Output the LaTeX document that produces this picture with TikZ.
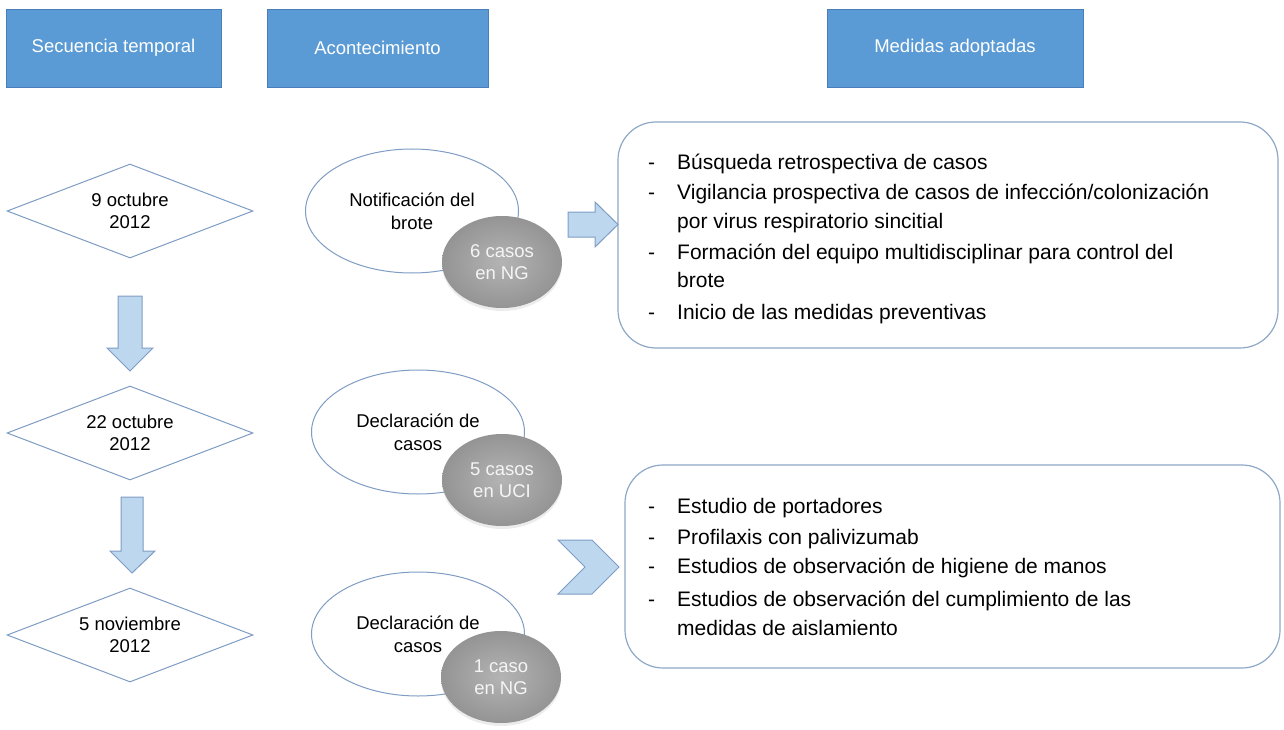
\documentclass[tikz,border=0pt]{standalone}
\usepackage{fontspec}
\setmainfont{Liberation Sans}
\usetikzlibrary{shapes.geometric,shadows}
\definecolor{hdrfill}{HTML}{5B9BD5}
\definecolor{hdrdraw}{HTML}{4A7EBB}
\definecolor{lineblue}{HTML}{7F9DC4}
\definecolor{arrowfill}{HTML}{BDD7EE}
\definecolor{arrowdraw}{HTML}{7F9CC4}
\definecolor{boxdraw}{HTML}{8EA8C8}
\definecolor{grayin}{HTML}{B4B4B4}
\definecolor{grayout}{HTML}{949494}
\begin{document}
\begin{tikzpicture}[x=1pt,y=-1pt,
 header/.style={rectangle, fill=hdrfill, draw=hdrdraw, line width=0.8pt, text=white,
   font=\fontsize{18.5}{22}\selectfont, inner sep=0pt, minimum height=78pt},
 datebox/.style={diamond, draw=lineblue, line width=1pt, fill=white, aspect=2.6, inner sep=0pt,
   minimum width=246pt, minimum height=94pt, align=center, font=\fontsize{18.5}{22}\selectfont},
 event/.style={ellipse, draw=lineblue, line width=1pt, fill=white, inner sep=0pt,
   minimum width=213pt, minimum height=124pt, align=center, font=\fontsize{18.5}{23}\selectfont},
 cases/.style={ellipse, inner sep=0pt, minimum width=120pt, minimum height=92pt, align=center,
   text=white!92!gray, shading=radial, inner color=grayin, outer color=grayout,
   drop shadow={opacity=0.15, shadow xshift=0pt, shadow yshift=-3pt},
   font=\fontsize{18.5}{22}\selectfont},
 measures/.style={rectangle, draw=boxdraw, line width=1.2pt, rounded corners=38pt, fill=white, inner sep=0pt},
 blockarrow/.style={fill=arrowfill, draw=arrowdraw, line width=1pt, line join=miter},
 item/.style={anchor=base west, inner sep=0pt, font=\fontsize{21}{25}\selectfont},
]
\useasboundingbox (0,0) rectangle (1284,730);

% headers
\node[header, minimum width=215pt] (h1) at (113.5,48) {Secuencia temporal};
\node[header, minimum width=221pt] (h2) at (377.5,48) {Acontecimiento};
\node[header, minimum width=256pt] (h3) at (955,48) {Medidas adoptadas};

% dates
\node[datebox] (d1) at (130,211) {9 octubre\\2012};
\node[datebox] (d2) at (130,433) {22 octubre\\2012};
\node[datebox] (d3) at (130,635) {5 noviembre\\2012};

% down arrows
\draw[blockarrow] (118,296) -- (142,296) -- (142,348) -- (153,348) -- (130,371) -- (107,348) -- (118,348) -- cycle;
\draw[blockarrow] (121,497) -- (143,497) -- (143,551) -- (155,551) -- (132,573) -- (110,551) -- (121,551) -- cycle;

% events
\node[event] (e1) at (412,211) {Notificación del\\brote};
\node[event] (e2) at (418,432) {Declaración de\\casos};
\node[event] (e3) at (418,634) {Declaración de\\casos};

\node[cases] (c1) at (502,262) {6 casos\\en NG};
\node[cases] (c2) at (502,480) {5 casos\\en UCI};
\node[cases] (c3) at (501,677) {1 caso\\en NG};

% measure boxes
\node[measures, minimum width=660pt, minimum height=226pt] (m1) at (948,235) {};
\node[measures, minimum width=655pt, minimum height=203pt] (m2) at (952.5,566.5) {};

% right arrow and chevron
\draw[blockarrow] (568,212) -- (595,212) -- (595,202) -- (618,224.5) -- (595,247) -- (595,237) -- (568,237) -- cycle;
\draw[blockarrow] (558,540) -- (592,540) -- (619,567) -- (592,594) -- (558,594) -- (585,567) -- cycle;

% box 1 text
\foreach \y/\t [count=\i] in {170/{Búsqueda retrospectiva de casos},
  200/{Vigilancia prospectiva de casos de infección/colonización},
  259/{Formación del equipo multidisciplinar para control del},
  319/{Inicio de las medidas preventivas}}
  {\node[item] (m1t\i) at (677,\y) {\t};
   \node[item] (m1b\i) at (648,\y) {-};}
\node[item] (m1w1) at (677,228) {por virus respiratorio sincitial};
\node[item] (m1w2) at (677,287) {brote};

% box 2 text
\foreach \y/\t [count=\i] in {513/{Estudio de portadores},
  544/{Profilaxis con palivizumab},
  573/{Estudios de observación de higiene de manos},
  606/{Estudios de observación del cumplimiento de las}}
  {\node[item] (m2t\i) at (677,\y) {\t};
   \node[item] (m2b\i) at (648,\y) {-};}
\node[item] (m2w1) at (677,635) {medidas de aislamiento};
\end{tikzpicture}
\end{document}
